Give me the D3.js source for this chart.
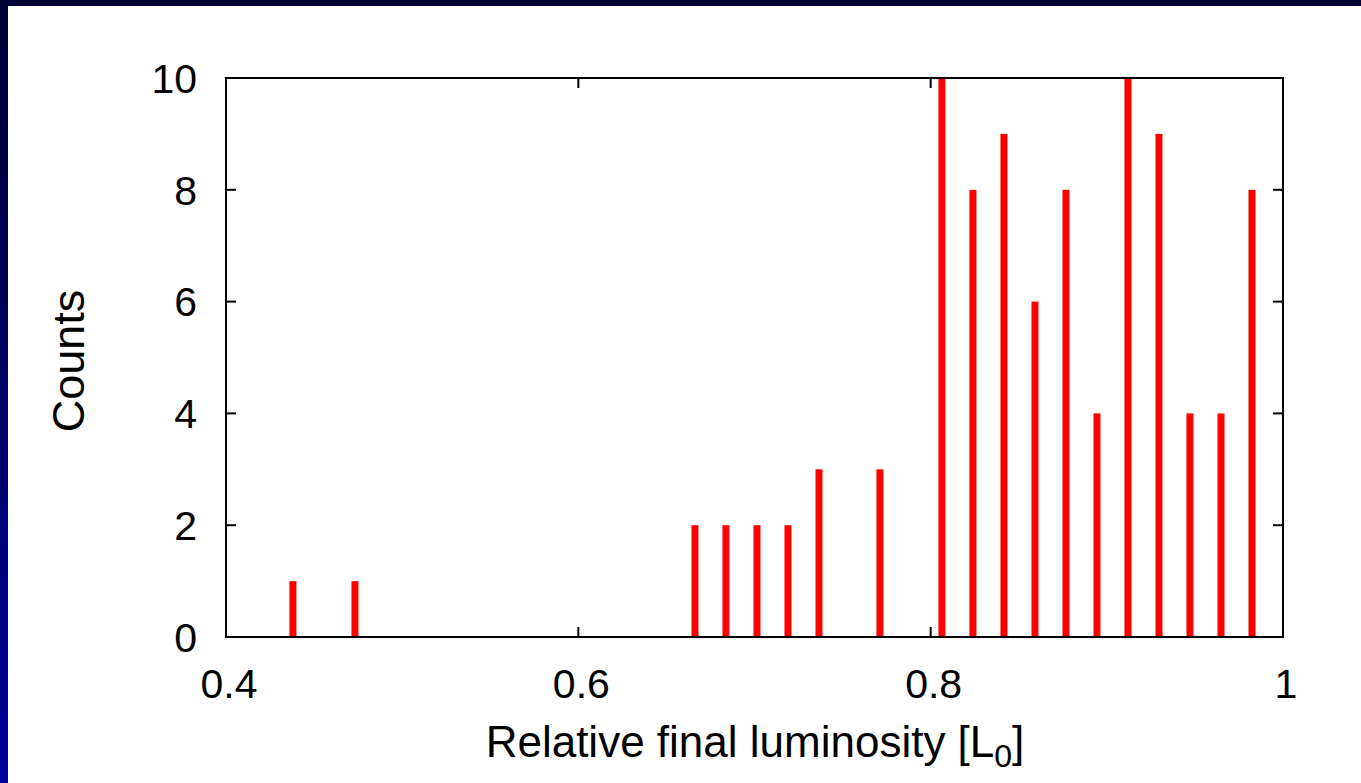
<!DOCTYPE html>
<html><head><meta charset="utf-8">
<script src="https://cdn.jsdelivr.net/npm/d3@7"></script>
<style>body{margin:0;background:#fff;}svg{display:block;}</style>
</head><body>
<script>
const binCenters = [0.438,0.4732,0.6662,0.6838,0.7014,0.719,0.7366,0.7712,0.8064,0.824,0.8416,0.8592,0.8768,0.8944,0.912,0.9296,0.9472,0.9648,0.9824];
const counts = [1,1,2,2,2,2,3,3,10,8,9,6,8,4,10,9,4,4,8];
const xTicks = [0.4,0.6,0.8,1];
const yTicks = [0,2,4,6,8,10];

const W=1361,H=783;
const svg=d3.select("body").append("svg").attr("width",W).attr("height",H);
const defs=svg.append("defs");
const g1=defs.append("linearGradient").attr("id","lg").attr("x1",0).attr("y1",0).attr("x2",0).attr("y2",1);
g1.append("stop").attr("offset","0%").attr("stop-color","#000033");
g1.append("stop").attr("offset","100%").attr("stop-color","#00009c");
svg.append("rect").attr("width",W).attr("height",H).attr("fill","#fff");
svg.append("rect").attr("x",0).attr("y",0).attr("width",8).attr("height",H).attr("fill","url(#lg)");
svg.append("rect").attr("x",0).attr("y",0).attr("width",W).attr("height",6).attr("fill","#000033");

const L=226,R=1283,T=78,B=637;
const x=d3.scaleLinear().domain([0.4,1]).range([L,R]);
const y=d3.scaleLinear().domain([0,10]).range([B,T]);

svg.append("g").selectAll("rect").data(binCenters).join("rect")
 .attr("x",d=>x(d)-3.5).attr("width",7)
 .attr("y",(d,i)=>y(counts[i])).attr("height",(d,i)=>y(0)-y(counts[i]))
 .attr("fill","#ff0000");

const font="'Liberation Sans', Arial, sans-serif";
const ax=svg.append("g").attr("stroke","#000").attr("stroke-width",2);
xTicks.forEach(t=>{
  ax.append("line").attr("x1",x(t)).attr("x2",x(t)).attr("y1",B).attr("y2",B-10);
  ax.append("line").attr("x1",x(t)).attr("x2",x(t)).attr("y1",T).attr("y2",T+10);
});
yTicks.forEach(t=>{
  ax.append("line").attr("x1",L).attr("x2",L+10).attr("y1",y(t)).attr("y2",y(t));
  ax.append("line").attr("x1",R).attr("x2",R-10).attr("y1",y(t)).attr("y2",y(t));
});
svg.append("rect").attr("x",L).attr("y",T).attr("width",R-L).attr("height",B-T)
 .attr("fill","none").attr("stroke","#000").attr("stroke-width",2);

svg.append("g").selectAll("text").data(xTicks).join("text")
 .attr("x",d=>x(d)+3).attr("y",698).attr("text-anchor","middle")
 .attr("font-family",font).attr("font-size",41).attr("fill","#000")
 .text(d=>d3.format("")(d));
svg.append("g").selectAll("text").data(yTicks).join("text")
 .attr("x",197).attr("y",d=>y(d)).attr("dy","0.36em").attr("text-anchor","end")
 .attr("font-family",font).attr("font-size",41).attr("fill","#000")
 .text(d=>d);

const xt=svg.append("text").attr("x",755).attr("y",757).attr("text-anchor","middle")
 .attr("font-family",font).attr("font-size",44).attr("fill","#000");
xt.append("tspan").text("Relative final luminosity [L");
xt.append("tspan").attr("font-size",32).attr("dy",10).text("0");
xt.append("tspan").attr("dy",-10).text("]");

svg.append("text").attr("transform","translate(84,361) rotate(-90)").attr("text-anchor","middle")
 .attr("font-family",font).attr("font-size",45).attr("fill","#000").text("Counts");
</script>
</body></html>
